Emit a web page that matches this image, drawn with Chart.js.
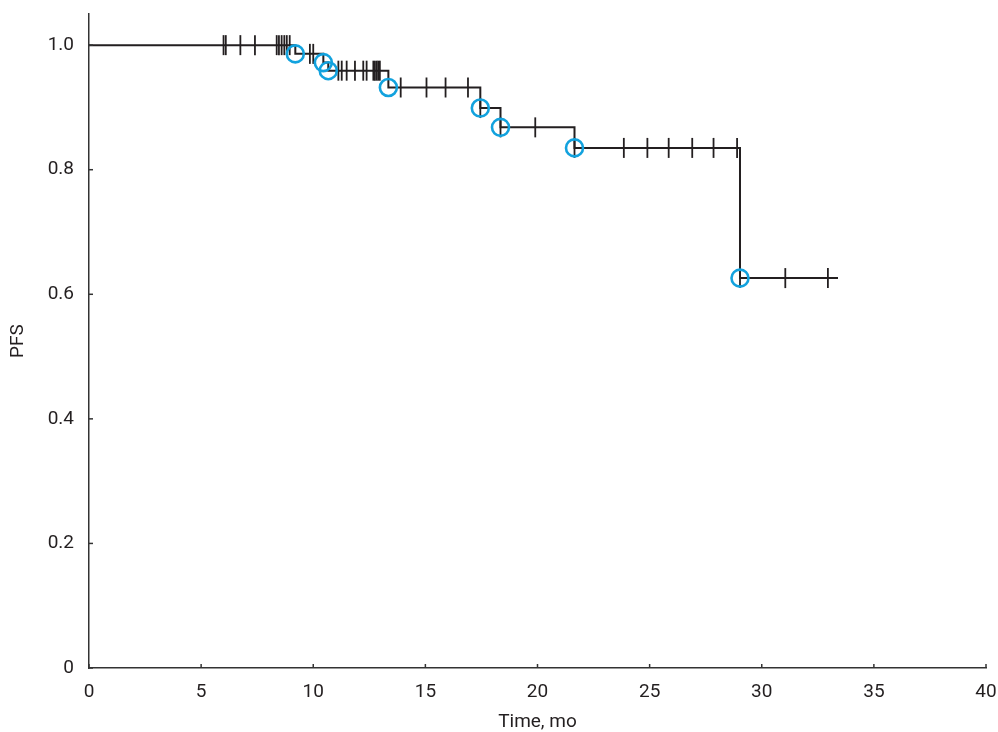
<!DOCTYPE html>
<html lang="en">

<head>
    <meta charset="UTF-8">
    <title>PFS Kaplan-Meier</title>
    <script src="https://cdn.jsdelivr.net/npm/chart.js"></script>
    <style>
        body {
            margin: 0;
            background: #ffffff;
        }

        .chart-box {
            width: 998px;
            height: 732px;
        }
    </style>
</head>

<body>

    <div class="chart-box">
        <canvas id="pfsChart" width="998" height="732"></canvas>
    </div>

    <script>
        // Step curve (time in months, PFS)
        const stepTimes = [0, 9.2, 10.45, 10.67, 13.35, 17.45, 18.35, 21.65, 29.03, 33.4];
        const stepSurv = [1.0, 0.986, 0.972, 0.959, 0.932, 0.899, 0.868, 0.835, 0.626, 0.626];

        // Events (blue circles)
        const eventTimes = [9.2, 10.45, 10.67, 13.35, 17.45, 18.35, 21.65, 29.03];
        const eventSurv = [0.986, 0.972, 0.959, 0.932, 0.899, 0.868, 0.835, 0.626];

        // Censored observations (vertical ticks)
        const censorTimes = [6.0, 6.1, 6.75, 7.4, 8.37, 8.47, 8.59, 8.71, 8.82, 8.95,
            9.85, 10.0,
            11.12, 11.27, 11.49, 11.86, 12.23, 12.38, 12.68, 12.75, 12.83, 12.9, 12.97,
            13.9, 15.05, 15.9, 16.9,
            17.45,
            18.35, 19.9,
            21.65, 23.85, 24.9, 25.85, 26.9, 27.85, 28.9,
            29.03, 31.05, 32.95];
        const censorSurv = [1.0, 1.0, 1.0, 1.0, 1.0, 1.0, 1.0, 1.0, 1.0, 1.0,
            0.986, 0.986,
            0.959, 0.959, 0.959, 0.959, 0.959, 0.959, 0.959, 0.959, 0.959, 0.959, 0.959,
            0.932, 0.932, 0.932, 0.932,
            0.899,
            0.868, 0.868,
            0.835, 0.835, 0.835, 0.835, 0.835, 0.835, 0.835,
            0.626, 0.626, 0.626];

        // Axis ticks
        const xTicks = [0, 5, 10, 15, 20, 25, 30, 35, 40];
        const yTicks = [0, 0.2, 0.4, 0.6, 0.8, 1.0];
        const yTickLabels = ['0', '0.2', '0.4', '0.6', '0.8', '1.0'];

        const fontFamily = "Roboto, 'Liberation Sans', sans-serif";
        const fontSize = 19;
        const ink = '#231f20';
        const axisColor = '#333333';

        function toPoints(xs, ys) {
            return xs.map((x, i) => ({ x: x, y: ys[i] }));
        }

        // no extra room for the end labels, the plot box is fixed
        function noScalePadding(scale) {
            scale.paddingLeft = 0;
            scale.paddingRight = 0;
            scale.paddingTop = 0;
            scale.paddingBottom = 0;
        }

        // small inward tick marks on both axes
        const inwardTicks = {
            id: 'inwardTicks',
            afterDraw(chart) {
                const ctx = chart.ctx;
                const xs = chart.scales.x;
                const ys = chart.scales.y;
                ctx.save();
                ctx.strokeStyle = axisColor;
                ctx.lineWidth = 1.5;
                xs.ticks.forEach(t => {
                    const px = xs.getPixelForValue(t.value);
                    ctx.beginPath();
                    ctx.moveTo(px, ys.bottom);
                    ctx.lineTo(px, ys.bottom - 4);
                    ctx.stroke();
                });
                ys.ticks.forEach(t => {
                    const py = ys.getPixelForValue(t.value);
                    ctx.beginPath();
                    ctx.moveTo(xs.left, py);
                    ctx.lineTo(xs.left + 4, py);
                    ctx.stroke();
                });
                ctx.restore();
            }
        };

        var ctx = document.getElementById('pfsChart').getContext('2d');
        var pfsChart = new Chart(ctx, {
            type: 'line',
            data: {
                datasets: [{
                    label: 'Events',
                    data: toPoints(eventTimes, eventSurv),
                    showLine: false,
                    pointStyle: 'circle',
                    pointRadius: 8.5,
                    pointBorderWidth: 2.6,
                    pointBorderColor: '#12a2de',
                    pointBackgroundColor: 'rgba(0,0,0,0)',
                    order: 0
                }, {
                    label: 'Censored',
                    data: toPoints(censorTimes, censorSurv),
                    showLine: false,
                    pointStyle: 'line',
                    rotation: 90,
                    pointRadius: 10,
                    pointBorderWidth: 1.8,
                    pointBorderColor: ink,
                    order: 1
                }, {
                    label: 'PFS',
                    data: toPoints(stepTimes, stepSurv),
                    stepped: 'before',
                    borderColor: ink,
                    borderWidth: 2,
                    pointRadius: 0,
                    fill: false,
                    order: 2
                }]
            },
            options: {
                responsive: false,
                animation: false,
                layout: {
                    padding: { top: 14, right: 12, left: 0, bottom: 0 }
                },
                plugins: {
                    legend: { display: false },
                    tooltip: { enabled: false }
                },
                scales: {
                    x: {
                        type: 'linear',
                        min: 0,
                        max: 40,
                        afterBuildTicks: scale => {
                            scale.ticks = xTicks.map(v => ({ value: v }));
                        },
                        afterFit: scale => {
                            scale.height = 64;
                            noScalePadding(scale);
                        },
                        grid: { display: false, drawTicks: false },
                        border: { display: true, color: axisColor, width: 1.5 },
                        ticks: {
                            padding: 13,
                            color: ink,
                            font: { family: fontFamily, size: fontSize },
                            maxRotation: 0
                        },
                        title: {
                            display: true,
                            text: 'Time, mo',
                            color: ink,
                            font: { family: fontFamily, size: fontSize, lineHeight: 1 },
                            padding: { top: 0, bottom: 0 }
                        }
                    },
                    y: {
                        type: 'linear',
                        min: 0,
                        max: 1.05,
                        afterBuildTicks: scale => {
                            scale.ticks = yTicks.map(v => ({ value: v }));
                        },
                        afterFit: scale => {
                            scale.width = 89;
                            noScalePadding(scale);
                        },
                        grid: { display: false, drawTicks: false },
                        border: { display: true, color: axisColor, width: 1.5 },
                        ticks: {
                            padding: 15,
                            color: ink,
                            font: { family: fontFamily, size: fontSize },
                            callback: function (value) {
                                const i = yTicks.findIndex(t => Math.abs(t - value) < 1e-6);
                                return i >= 0 ? yTickLabels[i] : '';
                            }
                        },
                        title: {
                            display: true,
                            text: 'PFS',
                            color: ink,
                            font: { family: fontFamily, size: fontSize, lineHeight: 1 },
                            padding: { top: 9, bottom: 0 }
                        }
                    }
                }
            },
            plugins: [inwardTicks]
        });
    </script>

</body>

</html>
